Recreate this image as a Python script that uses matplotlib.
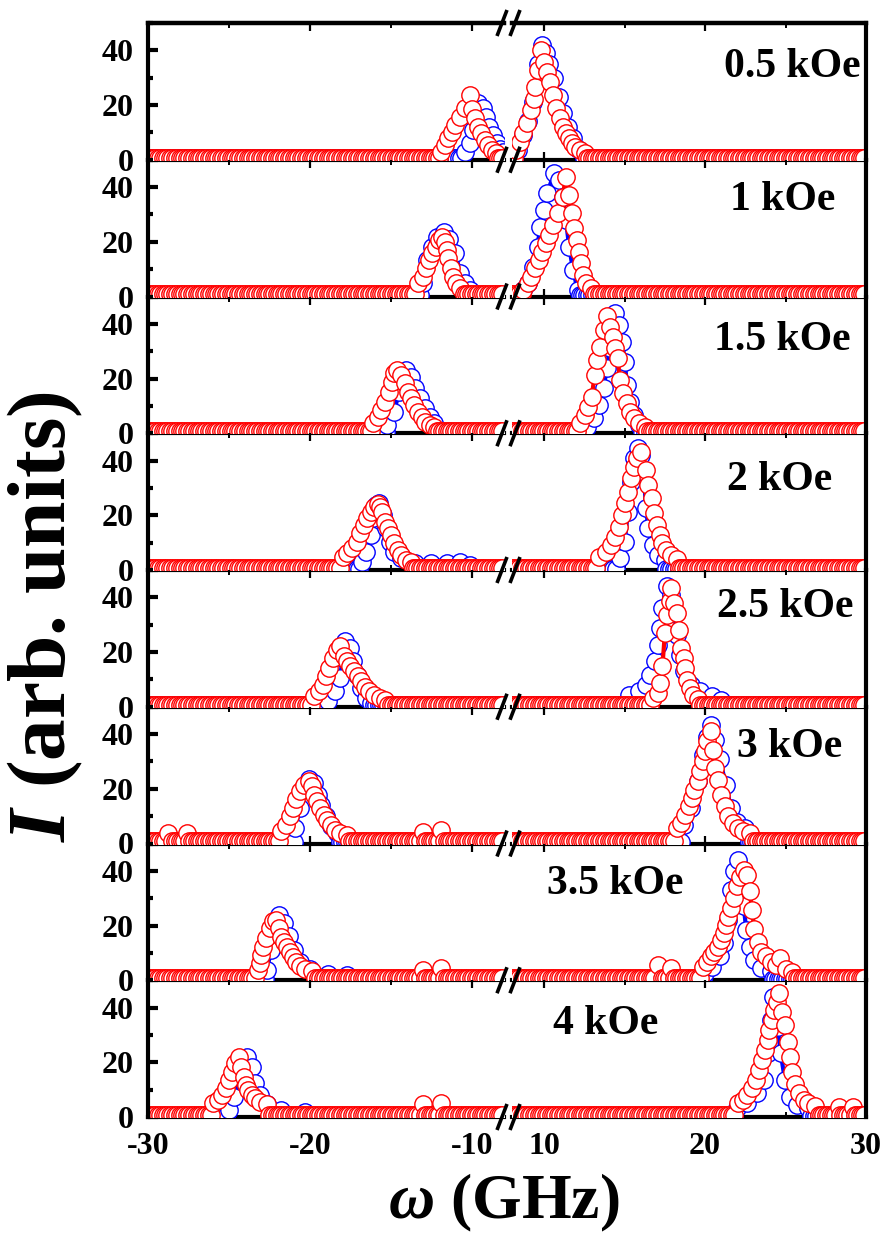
"""Brillouin spectra at several fields, stacked panels with a broken frequency axis."""

import matplotlib

matplotlib.use("Agg")

import matplotlib.pyplot as plt
import numpy as np
from matplotlib.lines import Line2D
from matplotlib.ticker import MultipleLocator

plt.rcParams["font.family"] = ["Liberation Serif", "DejaVu Serif"]
plt.rcParams["font.weight"] = "bold"
plt.rcParams["axes.unicode_minus"] = False
plt.rcParams["mathtext.fontset"] = "custom"
plt.rcParams["mathtext.it"] = "Liberation Serif:bold:italic"
plt.rcParams["mathtext.rm"] = "Liberation Serif:bold"
plt.rcParams["mathtext.bf"] = "Liberation Serif:bold"

FIELDS = ["0.5 kOe", "1 kOe", "1.5 kOe", "2 kOe", "2.5 kOe", "3 kOe", "3.5 kOe", "4 kOe"]
# label centres in pixels of the 889x1238 picture
LABEL_XY = [(792, 67), (783, 200), (782, 340), (780, 480),
            (785, 607), (790, 747), (615, 884), (606, 1024)]

BASE_STEP = 0.15     # spacing of the flat background points, GHz
RED_BASE = 0.8
BLUE_BASE = 0.5

# peak points: frequency (GHz) and intensity
RED_LOW_F = [
    [-11.87, -11.64, -11.43, -11.23, -11.0, -10.7, -10.41, -10.12, -9.98, -9.77, -9.6, -9.4, -9.19, -8.96, -8.73, -8.52],
    [-13.32, -13.03, -12.83, -12.65, -12.45, -12.22, -12.01, -11.81, -11.64, -11.52, -11.43, -11.29, -11.14, -10.94, -10.7],
    [-16.09, -15.8, -15.59, -15.36, -15.13, -14.92, -14.78, -14.63, -14.34, -14.14, -13.96, -13.76, -13.56, -13.32, -13.09, -12.89, -12.6, -12.31],
    [-17.98, -17.69, -17.4, -17.11, -16.87, -16.67, -16.47, -16.23, -16.03, -15.8, -15.65, -15.51, -15.36, -15.16, -14.98, -14.78, -14.58, -14.34, -14.05, -13.76],
    [-19.73, -19.44, -19.2, -19.0, -18.8, -18.56, -18.33, -18.13, -17.89, -17.69, -17.49, -17.25, -17.05, -16.82, -16.58, -16.32, -16.03, -15.65, -15.36],
    [-21.76, -21.47, -21.24, -21.04, -20.83, -20.6, -20.37, -20.08, -19.87, -19.73, -19.58, -19.38, -19.14, -18.91, -18.71, -18.42, -18.13, -17.69],
    [-23.22, -23.07, -22.99, -22.87, -22.69, -22.49, -22.29, -22.11, -21.91, -21.76, -21.62, -21.41, -21.24, -21.04, -20.83, -20.6, -20.31, -19.87],
    [-25.98, -25.69, -25.4, -25.2, -25.02, -24.82, -24.62, -24.38, -24.24, -24.09, -23.95, -23.8, -23.6, -23.36, -23.07, -22.64],
]
RED_LOW_I = [
    [2.9, 5.4, 7.8, 10.2, 12.7, 15.7, 18.8, 23.5, 18.4, 15.1, 12.1, 9.6, 7.2, 5.4, 3.5, 2.3],
    [4.8, 7.3, 10.3, 13.4, 15.8, 18.2, 20.7, 21.9, 20.1, 17.0, 14.0, 10.3, 7.3, 4.8, 3.0],
    [3.6, 6.1, 8.5, 11.6, 15.2, 18.9, 21.9, 23.1, 21.3, 18.2, 15.2, 12.8, 10.3, 7.9, 6.1, 4.2, 3.0, 2.4],
    [4.9, 6.1, 7.9, 10.4, 13.4, 16.5, 18.9, 21.3, 23.0, 24.0, 23.0, 21.3, 17.7, 15.2, 12.8, 9.8, 7.3, 5.5, 3.7, 3.0],
    [3.8, 5.6, 8.0, 11.1, 14.1, 17.8, 20.9, 22.1, 18.4, 16.6, 14.8, 12.9, 11.1, 9.3, 7.4, 5.6, 4.4, 3.2, 2.6],
    [4.5, 6.9, 10.0, 13.0, 16.1, 19.1, 21.5, 22.7, 20.9, 17.9, 15.4, 13.0, 10.6, 8.7, 6.9, 5.1, 3.8, 3.2],
    [3.8, 6.2, 9.2, 12.3, 15.3, 19.0, 21.5, 22.1, 19.0, 15.9, 14.0, 12.2, 10.4, 8.5, 6.7, 5.1, 4.0, 3.2],
    [5.0, 6.2, 8.0, 10.5, 13.5, 16.6, 19.6, 22.1, 18.4, 14.8, 11.7, 9.9, 8.0, 6.8, 5.6, 4.8],
]
RED_HIGH_F = [
    [8.27, 8.51, 8.71, 8.92, 9.15, 9.39, 9.44, 9.59, 9.8, 9.97, 10.18, 10.38, 10.56, 10.76, 10.97, 11.2, 11.35, 11.55, 11.73, 11.93, 12.23, 12.52],
    [8.71, 9.0, 9.21, 9.44, 9.68, 9.88, 10.09, 10.32, 10.56, 10.85, 11.14, 11.35, 11.55, 11.7, 11.84, 12.02, 12.14, 12.28, 12.43, 12.61, 12.9],
    [12.23, 12.52, 12.72, 12.96, 13.13, 13.31, 13.48, 13.69, 13.89, 14.07, 14.25, 14.42, 14.57, 14.71, 14.92, 15.12, 15.36, 15.59, 15.89, 16.24],
    [13.4, 13.84, 14.13, 14.42, 14.66, 14.86, 15.04, 15.21, 15.39, 15.59, 15.77, 16.03, 16.33, 16.47, 16.68, 16.85, 17.0, 17.17, 17.35, 17.58, 17.88, 18.23],
    [16.76, 17.06, 17.2, 17.35, 17.5, 17.64, 17.79, 17.88, 18.08, 18.23, 18.38, 18.52, 18.67, 18.76, 18.87, 19.05, 19.25, 19.55],
    [18.23, 18.52, 18.76, 18.97, 19.17, 19.34, 19.55, 19.69, 19.84, 19.99, 20.13, 20.34, 20.52, 20.63, 20.81, 21.01, 21.22, 21.45, 21.74, 22.04, 22.33, 22.77],
    [19.84, 20.13, 20.34, 20.57, 20.81, 21.01, 21.16, 21.3, 21.45, 21.6, 21.8, 21.98, 22.16, 22.39, 22.62, 22.77, 22.91, 23.06, 23.27, 23.5, 23.79, 24.09, 24.38, 24.67, 25.02, 25.4],
    [22.04, 22.33, 22.62, 22.91, 23.15, 23.35, 23.56, 23.73, 23.88, 24.0, 24.14, 24.29, 24.44, 24.61, 24.81, 24.96, 25.13, 25.27, 25.42, 25.6, 25.83, 26.12, 26.41, 26.85],
]
RED_HIGH_I = [
    [3.5, 6.6, 9.6, 13.3, 18.2, 22.3, 26.7, 32.8, 40.0, 35.9, 32.2, 28.5, 23.7, 18.8, 15.1, 12.1, 9.6, 7.8, 6.0, 4.7, 3.5, 2.6],
    [2.4, 4.8, 7.3, 10.3, 13.4, 16.4, 19.5, 22.5, 26.2, 30.4, 36.5, 43.8, 37.1, 30.4, 24.9, 20.7, 16.4, 12.1, 7.9, 4.8, 3.0],
    [3.6, 6.7, 9.7, 13.4, 21.3, 26.8, 31.7, 37.8, 42.7, 39.0, 35.3, 31.1, 27.4, 19.5, 14.6, 10.9, 7.9, 5.5, 3.6, 2.4],
    [4.9, 6.7, 9.1, 12.2, 15.9, 20.1, 24.4, 28.7, 33.5, 37.8, 40.9, 43.3, 36.6, 31.1, 26.2, 20.7, 16.5, 12.8, 9.8, 7.3, 5.5, 4.0],
    [3.2, 5.0, 8.7, 14.8, 27.0, 33.7, 38.5, 43.4, 37.9, 34.3, 28.2, 21.5, 17.8, 14.1, 9.9, 6.8, 4.4, 2.9],
    [5.7, 7.5, 10.5, 13.6, 16.6, 19.7, 22.7, 26.4, 30.0, 33.7, 37.4, 41.0, 34.3, 27.6, 23.3, 17.9, 13.6, 10.0, 7.5, 5.7, 4.5, 3.8],
    [5.0, 6.8, 8.7, 10.5, 12.3, 14.8, 17.2, 20.2, 23.3, 26.3, 30.0, 34.3, 37.9, 40.4, 38.5, 32.8, 25.6, 18.9, 14.0, 10.5, 8.7, 6.8, 5.6, 8.0, 4.0, 3.0],
    [5.0, 6.2, 8.0, 10.5, 13.5, 17.2, 20.9, 24.5, 28.2, 31.8, 35.5, 39.1, 42.1, 45.2, 38.5, 33.7, 27.4, 22.0, 16.6, 12.2, 8.6, 6.2, 5.0, 4.0],
]
BLUE_LOW_F = [
    [-10.41, -10.12, -9.89, -9.74, -9.6, -9.31, -9.1, -8.9, -8.67, -8.43, -8.23, -8.08],
    [-13.0, -12.74, -12.45, -12.16, -11.72, -11.4, -11.0, -10.7, -10.4, -10.1],
    [-15.2, -14.78, -14.49, -14.28, -14.05, -13.76, -13.47, -13.18, -12.89, -12.6, -12.31],
    [-16.8, -16.5, -16.23, -16.1, -15.94, -15.7, -15.5, -15.3, -15.07, -14.78, -14.34, -13.5, -12.5, -11.5, -10.7, -10.1],
    [-18.86, -18.42, -18.13, -17.98, -17.83, -17.54, -17.34, -17.11, -16.82, -16.52, -16.23],
    [-20.9, -20.6, -20.3, -20.02, -19.73, -19.5, -19.3, -19.0, -18.7, -18.3],
    [-22.64, -22.4, -22.2, -21.91, -21.62, -21.3, -21.0, -20.6, -20.0, -18.9, -17.7],
    [-24.97, -24.67, -24.38, -24.15, -23.86, -23.6, -23.36, -23.07, -22.64, -21.76, -20.3],
]
BLUE_LOW_I = [
    [2.9, 6.0, 10.9, 17.0, 20.6, 18.8, 15.7, 12.1, 9.0, 6.0, 4.1, 2.9],
    [5.0, 13.4, 18.2, 21.9, 23.7, 21.0, 15.8, 8.5, 4.8, 2.5],
    [3.0, 7.9, 15.2, 21.3, 23.1, 20.7, 16.4, 12.8, 9.1, 6.1, 3.6],
    [3.0, 6.7, 12.8, 18.9, 23.8, 24.4, 20.0, 15.2, 10.4, 6.7, 4.4, 2.6, 2.4, 2.6, 2.8, 1.8],
    [2.0, 5.6, 10.5, 17.8, 24.0, 21.5, 16.6, 11.7, 6.8, 3.2, 1.5],
    [5.7, 13.0, 20.3, 23.5, 22.0, 17.9, 14.2, 10.0, 6.3, 3.8],
    [3.8, 11.1, 18.4, 23.9, 20.9, 16.0, 11.1, 6.8, 4.2, 2.4, 1.8],
    [2.6, 7.4, 16.0, 20.9, 22.1, 18.4, 12.3, 8.0, 4.8, 2.4, 1.8],
]
BLUE_HIGH_F = [
    [8.4, 8.7, 9.0, 9.3, 9.6, 9.88, 10.1, 10.3, 10.6, 10.9, 11.2, 11.5, 11.8, 12.1, 12.4],
    [8.7, 9.0, 9.3, 9.59, 9.74, 9.97, 10.18, 10.61, 10.9, 11.14, 11.35, 11.55, 11.79, 12.08],
    [12.66, 13.1, 13.4, 13.69, 13.89, 14.07, 14.22, 14.42, 14.66, 14.86, 15.0, 15.15, 15.36, 15.59, 15.89],
    [14.7, 15.0, 15.21, 15.39, 15.59, 15.83, 16.03, 16.18, 16.33, 16.47, 16.76, 17.06, 17.5],
    [15.3, 15.9, 16.3, 16.6, 16.9, 17.06, 17.2, 17.35, 17.64, 17.88, 18.08, 18.23, 18.46, 18.67, 19.1, 19.7, 20.4, 21.0],
    [18.7, 19.1, 19.55, 19.84, 20.1, 20.34, 20.6, 20.9, 21.3, 21.6, 22.0, 22.5],
    [20.0, 20.4, 20.9, 21.16, 21.4, 21.6, 21.8, 22.04, 22.27, 22.4, 22.56, 22.77, 23.06, 23.5, 24.1],
    [22.0, 22.6, 23.2, 23.65, 23.9, 24.1, 24.23, 24.38, 24.5, 24.7, 24.96, 25.25, 25.7, 26.4],
]
BLUE_HIGH_I = [
    [3.5, 9.0, 14.0, 21.0, 35.0, 42.0, 39.0, 35.0, 30.0, 23.0, 17.0, 12.0, 7.8, 4.1, 2.5],
    [2.4, 4.8, 10.9, 18.2, 25.5, 31.6, 37.7, 45.0, 42.6, 36.5, 28.0, 18.2, 9.7, 2.4],
    [2.4, 5.5, 10.3, 16.4, 23.7, 31.1, 38.4, 43.9, 39.6, 33.5, 26.2, 17.6, 11.6, 6.7, 3.0],
    [4.3, 10.4, 21.3, 32.3, 40.9, 44.5, 42.0, 36.0, 22.6, 15.2, 9.1, 5.5, 3.7],
    [4.4, 5.6, 8.0, 11.7, 16.6, 22.7, 28.8, 36.1, 44.0, 41.0, 34.9, 26.3, 19.0, 12.9, 8.0, 5.6, 3.8, 2.6],
    [6.9, 13.0, 22.7, 32.5, 39.0, 43.5, 38.0, 31.0, 21.5, 13.0, 8.0, 5.7],
    [2.6, 5.0, 8.7, 13.5, 22.0, 33.0, 40.0, 44.0, 36.7, 27.0, 18.4, 12.3, 7.4, 4.4, 3.2],
    [3.2, 5.0, 8.7, 13.5, 23.3, 35.5, 44.0, 40.4, 33.0, 23.3, 13.5, 7.4, 4.4, 3.2],
]
# isolated raised background points of the red spectra
RED_BUMP_F = [[], [], [], [], [], [-28.75, -27.58, -13.03, -11.87],
              [-13.03, -11.87, 17.06, 17.9], [-13.03, -11.87, 28.3, 29.2]]
RED_BUMP_I = [[], [], [], [], [], [3.8, 3.8, 4.2, 4.8],
              [3.8, 4.4, 5.6, 4.4], [4.6, 5.2, 3.8, 3.8]]

LEFT_LIM = (-30, -8)
RIGHT_LIM = (8, 30)

W, H = 889, 1238
AX_TOP, ROW_H = 23, 136.75
LEFT_X0, LEFT_W = 148, 356
RIGHT_X0, RIGHT_W = 512, 354


def spectrum(lim, base, peak_f, peak_i, bump_f, bump_i):
    grid = np.arange(lim[0], lim[1] + 1e-6, BASE_STEP)
    keep = (grid < min(peak_f) - 0.1) | (grid > max(peak_f) + 0.1)
    for bf in bump_f:
        keep &= np.abs(grid - bf) > 0.1
    f = np.concatenate([grid[keep], peak_f, bump_f])
    i = np.concatenate([np.full(keep.sum(), base), peak_i, bump_i])
    order = np.argsort(f)
    return f[order], i[order]


def style_axes(ax, row, side):
    ax.set_facecolor("none")
    ax.set_ylim(0, 50)
    ax.set_xlim(LEFT_LIM if side == "left" else RIGHT_LIM)
    for name in ("left", "right", "top", "bottom"):
        ax.spines[name].set_color("black")
    ax.spines["left"].set_linewidth(3)
    ax.spines["right"].set_linewidth(3)
    ax.spines["bottom"].set_linewidth(3)
    ax.spines["top"].set_linewidth(3.2)
    ax.spines["left"].set_zorder(6)
    ax.spines["right"].set_zorder(6)
    ax.spines["top"].set_visible(row == 0)
    ax.spines["right" if side == "left" else "left"].set_visible(False)

    ax.xaxis.set_major_locator(MultipleLocator(10))
    ax.xaxis.set_minor_locator(MultipleLocator(5))
    ax.tick_params(axis="x", which="both", direction="in", top=True, bottom=True,
                   labelbottom=(row == len(FIELDS) - 1), labelsize=23, pad=11)
    ax.tick_params(axis="x", which="major", length=6, width=1.6)
    ax.tick_params(axis="x", which="minor", length=3.5, width=1.4)

    if side == "left":
        ax.yaxis.set_major_locator(MultipleLocator(20))
        ax.yaxis.set_minor_locator(MultipleLocator(10))
        ax.tick_params(axis="y", which="both", direction="in", left=True, right=False,
                       labelsize=23, pad=10)
        ax.tick_params(axis="y", which="major", length=7.5, width=3)
        ax.tick_params(axis="y", which="minor", length=3.5, width=3)
    else:
        ax.tick_params(axis="y", which="both", left=False, right=False, labelleft=False)
    for lab in ax.get_xticklabels() + ax.get_yticklabels():
        lab.set_fontweight("bold")


fig = plt.figure(figsize=(W / 100, H / 100), dpi=100)

for row, field in enumerate(FIELDS):
    y0 = 1 - (AX_TOP + ROW_H * (row + 1)) / H
    ax_l = fig.add_axes([LEFT_X0 / W, y0, LEFT_W / W, ROW_H / H])
    ax_r = fig.add_axes([RIGHT_X0 / W, y0, RIGHT_W / W, ROW_H / H])

    bumps_l = [(f, i) for f, i in zip(RED_BUMP_F[row], RED_BUMP_I[row]) if f < 0]
    bumps_r = [(f, i) for f, i in zip(RED_BUMP_F[row], RED_BUMP_I[row]) if f > 0]

    for ax, side, lim in ((ax_l, "left", LEFT_LIM), (ax_r, "right", RIGHT_LIM)):
        if side == "left":
            bf, bi = BLUE_LOW_F[row], BLUE_LOW_I[row]
            rf, ri = RED_LOW_F[row], RED_LOW_I[row]
            bumps = bumps_l
        else:
            bf, bi = BLUE_HIGH_F[row], BLUE_HIGH_I[row]
            rf, ri = RED_HIGH_F[row], RED_HIGH_I[row]
            bumps = bumps_r
        bump_f = [b[0] for b in bumps]
        bump_i = [b[1] for b in bumps]

        xb, yb = spectrum(lim, BLUE_BASE, bf, bi, [], [])
        xr, yr = spectrum(lim, RED_BASE, rf, ri, bump_f, bump_i)
        ax.plot(xb, yb, color="#0000ff", lw=3, marker="o", ms=12.5,
                mfc="white", mec="#0000ff", mew=1.0, zorder=3)
        ax.plot(xr, yr, color="#ff0000", lw=3, marker="o", ms=12.5,
                mfc="white", mec="#ff0000", mew=1.0, zorder=4)
        style_axes(ax, row, side)

    lx, ly = LABEL_XY[row]
    fig.text(lx / W, 1 - ly / H, field, fontsize=30, fontweight="bold",
             ha="center", va="center")

# "//" break marks on every panel boundary
for k in range(len(FIELDS) + 1):
    yb = AX_TOP + ROW_H * k
    for cx in (502, 515):
        fig.add_artist(Line2D([(cx - 5) / W, (cx + 5) / W],
                              [1 - (yb + 13) / H, 1 - (yb - 13) / H],
                              transform=fig.transFigure, color="black",
                              lw=2.6, solid_capstyle="butt", zorder=10))

fig.text(45 / W, 1 - 617 / H, r"$I$ (arb. units)", rotation=90, fontsize=60,
         fontweight="bold", ha="center", va="center")
fig.text(504 / W, 1 - 1203 / H, r"$\omega$ (GHz)", fontsize=46,
         fontweight="bold", ha="center", va="center")

fig.savefig("out.png", dpi=100)
